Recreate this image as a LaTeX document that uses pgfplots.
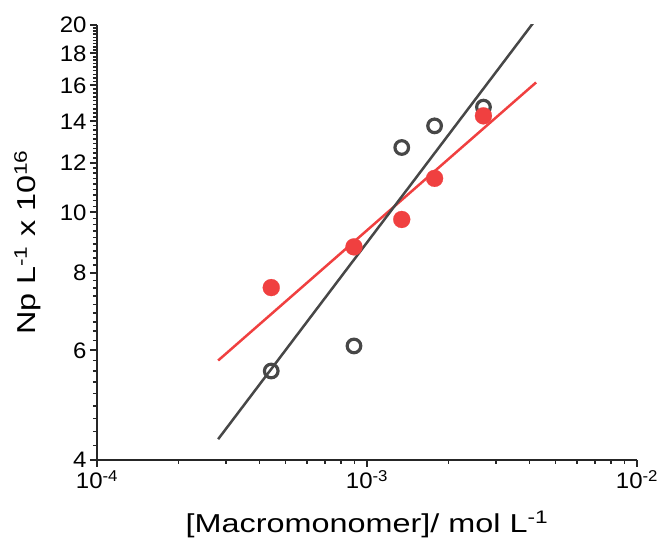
\documentclass[border=0pt]{standalone}
\usepackage{fontspec}
\setmainfont{Liberation Sans}
\newfontfamily\labelfont[FakeStretch=1.25]{Liberation Sans}
\newfontfamily\tickfont[FakeStretch=1.07]{Liberation Sans}
\usepackage{pgfplots}
\pgfplotsset{compat=1.18}
\definecolor{myred}{HTML}{F04040}
\definecolor{mygray}{HTML}{474747}
\begin{document}
\begin{tikzpicture}
\begin{axis}[
  scale only axis, width=540bp, height=435bp,
  xmode=log, ymode=log,
  xmin=1e-4, xmax=1e-2, ymin=4, ymax=20,
  axis x line*=bottom, axis y line*=left,
  axis line style={line width=2bp, color=black!85, -},
  tick align=outside,
  xtick={1e-4,1e-3,1e-2},
  xticklabels={10\textsuperscript{-4},10\textsuperscript{-3},10\textsuperscript{-2}},
  minor xtick={2e-4,3e-4,4e-4,5e-4,6e-4,7e-4,8e-4,9e-4,2e-3,3e-3,4e-3,5e-3,6e-3,7e-3,8e-3,9e-3},
  ytick={4,6,8,10,12,14,16,18,20},
  yticklabels={4,6,8,10,12,14,16,18,20},
  minor ytick={4.2222,4.4444,4.6667,4.8889,5.1111,5.3333,5.5556,5.7778,
               6.2222,6.4444,6.6667,6.8889,7.1111,7.3333,7.5556,7.7778,
               8.2222,8.4444,8.6667,8.8889,9.1111,9.3333,9.5556,9.7778,
               10.2222,10.4444,10.6667,10.8889,11.1111,11.3333,11.5556,11.7778,
               12.2222,12.4444,12.6667,12.8889,13.1111,13.3333,13.5556,13.7778,
               14.2222,14.4444,14.6667,14.8889,15.1111,15.3333,15.5556,15.7778,
               16.2222,16.4444,16.6667,16.8889,17.1111,17.3333,17.5556,17.7778,
               18.2222,18.4444,18.6667,18.8889,19.1111,19.3333,19.5556,19.7778},
  major tick length=7bp, minor tick length=4bp,
  every tick/.style={black!85, line width=2bp},
  minor tick style={line width=1.5bp},
  tick label style={font=\tickfont\fontsize{22.5}{26}\selectfont},
  label style={font=\labelfont\fontsize{26}{30}\selectfont},
  xlabel={[Macromonomer]/ mol L\textsuperscript{-1}},
  ylabel={Np L\textsuperscript{-1} x 10\textsuperscript{16}},
  xlabel style={at={(axis description cs:0.5,-0.1678)}, anchor=base},
  ylabel style={at={(axis description cs:-0.113,0.5)}, anchor=base},
]
\addplot[only marks, mark=o, mark size=6.8bp, mark options={line width=3.2bp, draw=mygray}]
  coordinates {(4.42e-4,5.56) (8.95e-4,6.10) (1.345e-3,12.71) (1.78e-3,13.77) (2.70e-3,14.76)};
\addplot[only marks, mark=*, mark size=8.5bp, mark options={draw=myred, fill=myred, line width=0.2bp}]
  coordinates {(4.42e-4,7.57) (8.95e-4,8.80) (1.345e-3,9.74) (1.78e-3,11.34) (2.70e-3,14.29)};
\addplot[myred, line width=2.5bp] coordinates {(2.81e-4,5.78) (4.23e-3,16.17)};
\addplot[mygray, line width=2.5bp] coordinates {(2.81e-4,4.32) (4.23e-3,20.44)};
\end{axis}
\pgfresetboundingbox
\path[use as bounding box] ([xshift=-97bp,yshift=-90bp]current axis.south west) rectangle ([xshift=25bp,yshift=25bp]current axis.north east);
\end{tikzpicture}
\end{document}
